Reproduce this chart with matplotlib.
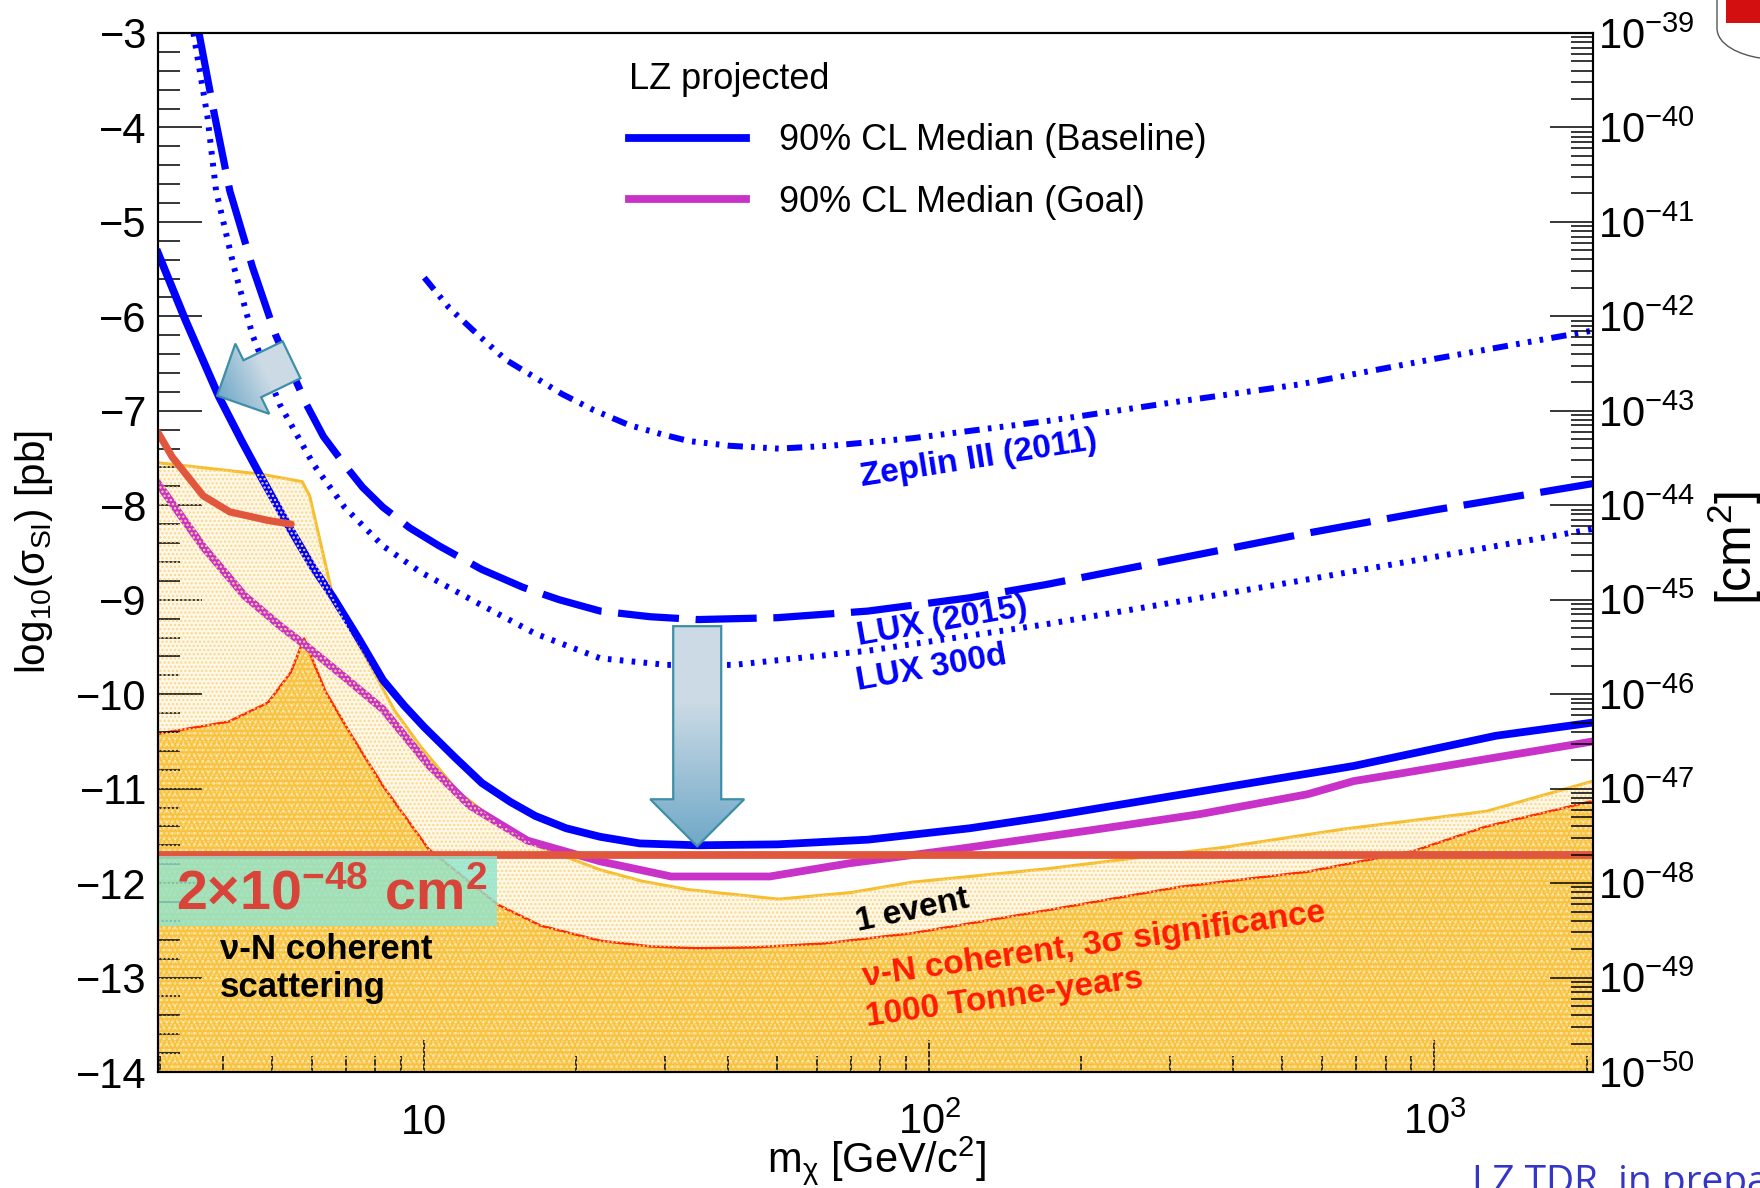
import numpy as np
import matplotlib
matplotlib.use("Agg")
import matplotlib.pyplot as plt
from matplotlib.ticker import (FixedLocator, FixedFormatter, LogLocator,
                               MultipleLocator, NullFormatter)
from matplotlib.patches import Rectangle, Polygon, PathPatch
from matplotlib.transforms import IdentityTransform
from matplotlib.colors import to_rgb
from matplotlib.lines import Line2D
from matplotlib.path import Path

plt.rcParams['font.family'] = ['Liberation Sans', 'DejaVu Sans']
plt.rcParams['mathtext.fontset'] = 'custom'
plt.rcParams['mathtext.rm'] = 'Liberation Sans'
plt.rcParams['mathtext.it'] = 'Liberation Sans:italic'
plt.rcParams['mathtext.bf'] = 'Liberation Sans:bold'
plt.rcParams['mathtext.default'] = 'regular'
plt.rcParams['lines.scale_dashes'] = False
plt.rcParams['hatch.linewidth'] = 1.1

# %% data: WIMP mass [GeV/c^2] and log10(sigma_SI / pb)
lz_base_m = [2.97, 3.36, 3.92, 4.35, 4.74, 5.44, 5.99, 6.61, 7.43, 8.28, 9.12,
             10, 11.5, 13, 14.8, 16.6, 19.1, 22.3, 26.7, 34.8, 50, 75.6, 120,
             170, 343, 692, 1324, 2060]
lz_base_s = [-5.33, -6.03, -6.85, -7.32, -7.69, -8.26, -8.64, -8.98, -9.42,
             -9.85, -10.12, -10.35, -10.67, -10.94, -11.14, -11.29, -11.42,
             -11.51, -11.58, -11.60, -11.59, -11.54, -11.42, -11.30, -11.03,
             -10.76, -10.44, -10.30]

lz_goal_m = [2.97, 3.65, 4.41, 5.19, 5.84, 6.88, 8.28, 10.2, 12.3, 16.0, 22.3,
             30.8, 48.3, 69.5, 113.6, 209, 343, 560, 692, 855, 1324, 2060]
lz_goal_s = [-7.77, -8.44, -8.96, -9.28, -9.49, -9.80, -10.16, -10.75, -11.18,
             -11.55, -11.77, -11.93, -11.93, -11.79, -11.64, -11.44, -11.27,
             -11.06, -10.92, -10.84, -10.67, -10.50]

lux15_m = [3.58, 3.84, 4.12, 4.57, 5.08, 5.84, 6.31, 6.95, 7.55, 8.28, 9.36,
           10.7, 13, 15.7, 18.5, 22.3, 28, 34.8, 50, 75.6, 120, 170, 300, 541,
           1000, 2060]
lux15_s = [-3.0, -3.86, -4.67, -5.48, -6.2, -6.93, -7.27, -7.57, -7.81, -8.02,
           -8.24, -8.43, -8.68, -8.87, -9.0, -9.12, -9.18, -9.21, -9.19, -9.12,
           -8.98, -8.84, -8.58, -8.31, -8.05, -7.77]

lux300_m = [3.49, 3.72, 3.87, 4.2, 4.57, 5.17, 6.04, 6.95, 8.28, 9.85, 12.8,
            16.6, 22.3, 30.2, 41, 75.6, 170, 541, 2060]
lux300_s = [-3.0, -3.88, -4.67, -5.48, -6.2, -6.93, -7.57, -8.02, -8.43, -8.71,
            -9.04, -9.36, -9.62, -9.69, -9.69, -9.54, -9.26, -8.80, -8.25]

zeplin_m = [10, 11.2, 12.8, 14.5, 16.6, 18.7, 21.6, 25.4, 29.6, 33.4, 40.2,
            50.3, 63.7, 92.6, 170, 313, 541, 1000, 2060]
zeplin_s = [-5.59, -5.91, -6.20, -6.46, -6.65, -6.82, -6.99, -7.15, -7.25,
            -7.32, -7.37, -7.40, -7.37, -7.29, -7.11, -6.90, -6.72, -6.45,
            -6.15]

event_m = [2.97, 4.74, 5.73, 5.93, 6.6, 7.59, 8.72, 9.85, 11.7, 14.0, 16.6,
           22.3, 27, 33.4, 50.3, 70, 92.6, 170, 385, 658, 1267, 2060]
event_s = [-7.55, -7.67, -7.75, -7.9, -8.98, -9.57, -10.17, -10.56, -11.04,
           -11.36, -11.60, -11.86, -11.98, -12.07, -12.17, -12.10, -11.99,
           -11.85, -11.62, -11.43, -11.24, -10.92]

nu_m = [2.97, 4.1, 4.9, 5.44, 5.78, 6.37, 7.2, 8.28, 10.2, 14.0, 17, 22.3, 28,
        34.8, 45, 61.5, 92.6, 170, 313, 560, 910, 1267, 2060]
nu_s = [-10.42, -10.29, -10.09, -9.77, -9.41, -9.97, -10.45, -10.97, -11.64,
        -12.23, -12.45, -12.61, -12.67, -12.69, -12.68, -12.64, -12.53, -12.29,
        -12.04, -11.88, -11.66, -11.40, -11.13]

red_m = [2.97, 3.17, 3.65, 4.12, 4.9, 5.45]
red_s = [-7.23, -7.49, -7.9, -8.07, -8.16, -8.20]

floor_2e48 = -11.7   # 2e-48 cm^2 in log10(pb)

xtick_vals = [10, 100, 1000]
xtick_labels = ['10', r'$10^{2}$', r'$10^{3}$']
legend_labels = ['90% CL Median (Baseline)', '90% CL Median (Goal)']

blue = '#0000ff'
magenta = '#c832c8'
coral = '#e0573e'

# %%
fig = plt.figure(figsize=(17.6, 11.88), dpi=100)
ax = fig.add_axes([158 / 1760, 1 - 1072 / 1188, 1435 / 1760, 1039 / 1188])
ax.set_xscale('log')
ax.set_xlim(2.97, 2060)
ax.set_ylim(-14, -3)

# neutrino background regions
ax.fill_between(event_m, event_s, -14, facecolor='#fff8e8', edgecolor='none', zorder=1)
ax.fill_between(nu_m, nu_s, -14, facecolor='#f8c23a', edgecolor='#fde9b8',
                hatch='...', linewidth=0, zorder=1.1)
ax.plot(event_m, event_s, color='#f6bd2c', lw=2.2, zorder=1.5)
ax.plot(nu_m, nu_s, color='#ff2a00', lw=1.8, zorder=1.5)

# limit curves
ax.plot(zeplin_m, zeplin_s, color=blue, lw=4.3,
        dashes=(11, 6, 2.6, 6, 2.6, 6, 2.6, 6), zorder=2)
ax.plot(lux15_m, lux15_s, color=blue, lw=5.2, dashes=(44, 12), zorder=2)
ax.plot(lux300_m, lux300_s, color=blue, lw=4.3, dashes=(2.6, 6), zorder=2)
ax.plot(lz_base_m, lz_base_s, color=blue, lw=5.6, zorder=2.1)
ax.plot(lz_goal_m, lz_goal_s, color=magenta, lw=5.6, zorder=2.1)

# dotted pattern of the 1-event band lies over the curves
ax.fill_between(event_m, event_s, -14, facecolor='none', edgecolor='#f8d98c',
                hatch='....', linewidth=0, zorder=2.2)

# curve labels
lab = dict(fontsize=24, fontweight='bold', rotation_mode='anchor',
           ha='center', va='center', zorder=3)
ax.text(125, -7.51, 'Zeplin III (2011)', color=blue, rotation=9, **lab)
ax.text(106, -9.23, 'LUX (2015)', color=blue, rotation=10, **lab)
ax.text(101, -9.73, 'LUX 300d', color=blue, rotation=10, **lab)
ax.text(92.7, -12.29, '1 event', color='black', rotation=12, **lab)
ax.text(212, -12.66, 'ν-N coherent, 3σ significance', color='#ff1a00',
        rotation=8, **lab)
ax.text(141, -13.22, '1000 Tonne-years', color='#ff1a00', rotation=8, **lab)
ax.text(3.94, -12.80, 'ν-N coherent', fontsize=25, fontweight='bold',
        ha='left', va='baseline', zorder=3)
ax.text(3.94, -13.21, 'scattering', fontsize=25, fontweight='bold',
        ha='left', va='baseline', zorder=3)

# overlay annotations
ax.axhline(floor_2e48, color=coral, lw=5.6, zorder=6)
ax.plot(red_m, red_s, color=coral, lw=5.2, solid_capstyle='round', zorder=6)
ax.add_patch(Rectangle((2.95, -12.45), 13.9 - 2.95, 0.74, facecolor='#8fe6cf',
                       edgecolor='none', alpha=0.8, zorder=6, clip_on=False))
ax.text(3.22, -12.28, r'$\mathbf{2{\times}10^{-48}\ cm^{2}}$', color='#d9443a',
        fontsize=40, ha='left', va='baseline', zorder=7)

# legend
h_base = Line2D([], [], color=blue, lw=5.6)
h_goal = Line2D([], [], color=magenta, lw=5.6)
ax.legend([h_base, h_goal], legend_labels, title='LZ projected',
          loc='upper left', bbox_to_anchor=(0.328, 0.9725), frameon=False,
          fontsize=26, title_fontsize=26, handlelength=3.26,
          handletextpad=0.9, labelspacing=0.74, borderpad=0,
          borderaxespad=0, alignment='left')

# axes, ticks
ax.xaxis.set_major_locator(FixedLocator(xtick_vals))
ax.xaxis.set_major_formatter(FixedFormatter(xtick_labels))
ax.xaxis.set_minor_locator(LogLocator(base=10, subs=np.arange(2, 10), numticks=30))
ax.xaxis.set_minor_formatter(NullFormatter())
ax.yaxis.set_major_locator(MultipleLocator(1))
ax.yaxis.set_minor_locator(MultipleLocator(0.2))
ax.tick_params(axis='x', which='major', direction='in', length=23, width=1.1,
               labelsize=30, pad=44.6, top=False)
ax.tick_params(axis='x', which='minor', direction='in', length=11.5, width=1.1,
               top=False)
ax.tick_params(axis='y', which='major', direction='in', length=31.5, width=1.1,
               labelsize=30, pad=8, right=False)
ax.tick_params(axis='y', which='minor', direction='in', length=15.8, width=1.1,
               right=False)
plt.setp(ax.get_xticklabels(), va='baseline')
for s in ax.spines.values():
    s.set_linewidth(1.5)

ax2 = ax.twinx()
ax2.set_yscale('log')
ax2.set_ylim(1e-50, 1e-39)
ax2.yaxis.set_major_locator(LogLocator(base=10, numticks=30))
ax2.yaxis.set_minor_locator(LogLocator(base=10, subs=np.arange(2, 10), numticks=300))
ax2.yaxis.set_minor_formatter(NullFormatter())
ax2.tick_params(which='major', direction='in', length=31, width=1.1,
                labelsize=30, pad=3.6)
ax2.tick_params(which='minor', direction='in', length=15.5, width=1.1)
for s in ax2.spines.values():
    s.set_linewidth(1.5)

ax.text(-0.0864, 0.5, r'log$_{10}$($\sigma_{SI}$) [pb]', transform=ax.transAxes,
        rotation=90, ha='center', va='center', fontsize=29)
fig.text(876 / 1760, 1 - 1172 / 1188, r'm$_{\chi}$ [GeV/c$^{2}$]',
         ha='center', va='baseline', fontsize=30)
fig.text(1735 / 1760, 1 - 548 / 1188, r'[cm$^{2}$]', rotation=90,
         ha='center', va='center', fontsize=36)


# block arrows with a light-to-dark gradient (sizes in pixels)
def block_arrow(tail, tip, tail_w, head_w, head_l,
                c0='#cbdae5', c1='#6fa8c7'):
    p0 = ax.transData.transform(tail)
    p1 = ax.transData.transform(tip)
    d = p1 - p0
    length = np.hypot(*d)
    u = d / length
    n = np.array([-u[1], u[0]])
    base = p1 - u * head_l
    pts = np.array([p0 + n * tail_w / 2, base + n * tail_w / 2,
                    base + n * head_w / 2, p1, base - n * head_w / 2,
                    base - n * tail_w / 2, p0 - n * tail_w / 2])
    x0, y0 = np.floor(pts.min(axis=0)).astype(int) - 2
    x1, y1 = np.ceil(pts.max(axis=0)).astype(int) + 2
    xx, yy = np.meshgrid(np.arange(x0, x1) + 0.5, np.arange(y0, y1) + 0.5)
    t = np.clip(((xx - p0[0]) * u[0] + (yy - p0[1]) * u[1]) / length, 0, 1)
    t = np.clip((t - 0.35) / 0.65, 0, 1)
    img = np.ones(xx.shape + (4,))
    for k, (a, b) in enumerate(zip(to_rgb(c0), to_rgb(c1))):
        img[..., k] = a + (b - a) * t
    outline = Polygon(pts, closed=True, transform=IdentityTransform(),
                      facecolor='none', edgecolor='#3d8fa8', lw=1.6, zorder=9)
    shade = fig.figimage(img, xo=x0, yo=y0, origin='lower', zorder=8)
    shade.set_clip_path(outline)
    fig.add_artist(outline)


block_arrow((34.7, -9.28), (34.7, -11.61), 48, 94, 47)
block_arrow((5.46, -6.46), (3.89, -6.84), 41, 78, 39)

# slide decorations
fig.text(1472 / 1760, -5 / 1188, 'LZ TDR, in preparation', family='Open Sans',
         color='#3535c8', fontsize=28, ha='left', va='baseline')
fig.patches.append(Rectangle((1726 / 1760, 1 - 23 / 1188), 34 / 1760, 23 / 1188,
                             transform=fig.transFigure, facecolor='#d40f0f',
                             edgecolor='none'))
logo = Path([(1717 / 1760, 1.0), (1717 / 1760, 1 - 28 / 1188),
             (1717 / 1760, 1 - 45 / 1188), (1740 / 1760, 1 - 55 / 1188),
             (1.0, 1 - 58 / 1188)],
            [Path.MOVETO, Path.LINETO, Path.CURVE4, Path.CURVE4, Path.CURVE4])
fig.patches.append(PathPatch(logo, transform=fig.transFigure, facecolor='none',
                             edgecolor='#555555', lw=1.0))

fig.savefig('out.png', dpi=100)
